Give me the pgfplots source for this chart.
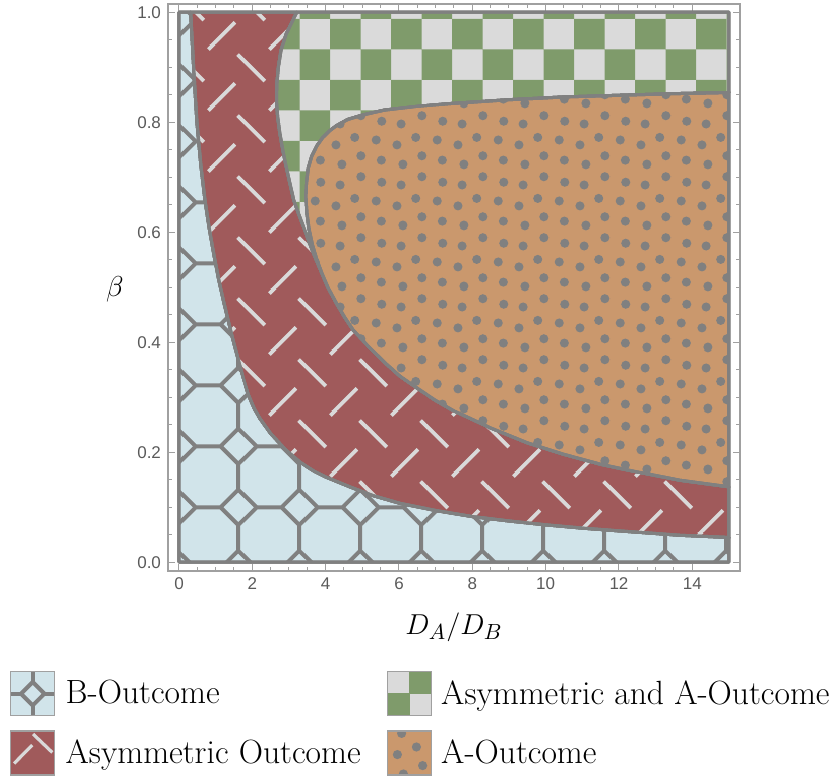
\documentclass[border=0pt]{standalone}
\usepackage{fontspec}
\usepackage{pgfplots}
\pgfplotsset{compat=1.18}
\usetikzlibrary{patterns}
\newfontfamily\tickfont{Liberation Sans}

\definecolor{bcol}{RGB}{209,228,234}
\definecolor{rcol}{RGB}{160,90,91}
\definecolor{gcol}{RGB}{127,155,107}
\definecolor{lgray}{RGB}{218,218,218}
\definecolor{ocol}{RGB}{202,152,109}
\definecolor{pgray}{RGB}{128,128,128}
\definecolor{dashcol}{RGB}{217,217,217}
\definecolor{framecol}{RGB}{160,160,160}
\definecolor{tickcol}{RGB}{90,90,90}

% octagon outline: centre #1,#2, half period #3, half edge #4
\newcommand\octpath[4]{%
 \pgfpathmoveto{\pgfpoint{#1+#3}{#2-#4}}%
 \pgfpathlineto{\pgfpoint{#1+#3}{#2+#4}}%
 \pgfpathlineto{\pgfpoint{#1+#4}{#2+#3}}%
 \pgfpathlineto{\pgfpoint{#1-#4}{#2+#3}}%
 \pgfpathlineto{\pgfpoint{#1-#3}{#2+#4}}%
 \pgfpathlineto{\pgfpoint{#1-#3}{#2-#4}}%
 \pgfpathlineto{\pgfpoint{#1-#4}{#2-#3}}%
 \pgfpathlineto{\pgfpoint{#1+#4}{#2-#3}}%
 \pgfpathclose}
\newcommand\bsl[2]{%
 \pgfpathmoveto{\pgfpoint{#1-6.7pt}{#2+6.7pt}}%
 \pgfpathlineto{\pgfpoint{#1+6.7pt}{#2-6.7pt}}}
\newcommand\fsl[2]{%
 \pgfpathmoveto{\pgfpoint{#1-6.7pt}{#2-6.7pt}}%
 \pgfpathlineto{\pgfpoint{#1+6.7pt}{#2+6.7pt}}}
\newcommand\dotat[2]{\pgfpathcircle{\pgfqpoint{#1}{#2}}{2.3pt}}

\pgfdeclarepatternformonly{myocts}{\pgfqpoint{0pt}{0pt}}{\pgfqpoint{30.5pt}{30.5pt}}{\pgfqpoint{30.5pt}{30.5pt}}{%
 \pgfsetlinewidth{2pt}\pgfsetroundjoin
 \octpath{12.75pt}{27.75pt}{15.25pt}{6.317pt}\octpath{43.25pt}{27.75pt}{15.25pt}{6.317pt}%
 \octpath{12.75pt}{-2.75pt}{15.25pt}{6.317pt}\octpath{43.25pt}{-2.75pt}{15.25pt}{6.317pt}%
 \pgfusepath{stroke}}
\pgfdeclarepatternformonly{mydashes}{\pgfqpoint{0pt}{0pt}}{\pgfqpoint{30.5pt}{30.5pt}}{\pgfqpoint{30.5pt}{30.5pt}}{%
 \pgfsetlinewidth{1.9pt}\pgfsetbuttcap
 \bsl{3.9pt}{18.85pt}\bsl{34.4pt}{18.85pt}\fsl{19.6pt}{4.3pt}\fsl{19.6pt}{34.8pt}%
 \pgfusepath{stroke}}
\pgfdeclarepatternformonly{mychecker}{\pgfqpoint{12.6pt}{12.5pt}}{\pgfqpoint{43.1pt}{43pt}}{\pgfqpoint{30.5pt}{30.5pt}}{%
 \pgfpathrectanglecorners{\pgfqpoint{12.6pt}{27.75pt}}{\pgfqpoint{27.85pt}{43pt}}%
 \pgfpathrectanglecorners{\pgfqpoint{27.85pt}{12.5pt}}{\pgfqpoint{43.1pt}{27.75pt}}%
 \pgfusepath{fill}}
\pgfdeclarepatternformonly{mydots}{\pgfqpoint{0pt}{0pt}}{\pgfqpoint{30.5pt}{30.5pt}}{\pgfqpoint{30.5pt}{30.5pt}}{%
 \dotat{7.8pt}{3.0pt}\dotat{18.7pt}{1.0pt}\dotat{18.7pt}{31.5pt}\dotat{28.3pt}{5.2pt}\dotat{-2.2pt}{5.2pt}%
 \dotat{5.2pt}{13.2pt}\dotat{15.7pt}{10.7pt}\dotat{25.2pt}{14.5pt}%
 \dotat{8.0pt}{22.7pt}\dotat{17.8pt}{21.3pt}\dotat{28.3pt}{25.5pt}\dotat{-2.2pt}{25.5pt}%
 \pgfusepath{fill}}

\pgfplotsset{legsw/.style={area legend,
  legend image code/.code={\draw[##1] (0pt,-11pt) rectangle (22pt,11pt);}}}

\begin{document}
\begin{tikzpicture}
\path[use as bounding box] (0,0) rectangle (416pt,388pt);
\begin{axis}[
  at={(84pt,102.5pt)}, anchor=south west, scale only axis,
  width=286pt, height=283.5pt,
  xmin=-0.3, xmax=15.3, ymin=-0.016, ymax=1.015,
  axis line style={framecol, line width=0.7pt},
  xtick={0,2,4,6,8,10,12,14}, ytick={0,0.2,0.4,0.6,0.8,1.0},
  minor x tick num=3, minor y tick num=3,
  tick align=inside, major tick length=3.5pt, minor tick length=2pt,
  every tick/.style={framecol, line width=0.5pt},
  /pgf/number format/assume math mode=true,
  ticklabel style={font=\tickfont\fontsize{8.5}{10}\selectfont, text=tickcol},
  yticklabel style={/pgf/number format/fixed, /pgf/number format/fixed zerofill, /pgf/number format/precision=1},
  xlabel={$D_A/D_B$}, ylabel={$\beta$},
  label style={font=\fontsize{15}{18}\selectfont},
  xlabel style={at={(axis description cs:0.5,-0.10)}, anchor=center},
  ylabel style={at={(axis description cs:-0.093,0.496)}, anchor=center, rotate=-90},
  legend columns=2, legend cell align=left,
  legend style={at={(axis description cs:-0.2792,-0.1734)}, anchor=north west,
    draw=none, fill=none, inner sep=0pt, font=\fontsize{16.8}{19}\selectfont,
    row sep=6.3pt, nodes={inner sep=0pt},
    /tikz/every odd column/.append style={column sep=4.5pt},
    /tikz/every even column/.append style={column sep=13pt}},
]
\addlegendimage{legend image code/.code={%
  \fill[bcol] (0pt,-11pt) rectangle (22pt,11pt);
  \draw[pgray, line width=2pt, line join=round] (11pt,5.86pt) -- (16.86pt,0pt) -- (11pt,-5.86pt) -- (5.14pt,0pt) -- cycle;
  \draw[pgray, line width=2pt] (11pt,5.86pt) -- (11pt,11pt) (11pt,-5.86pt) -- (11pt,-11pt)
     (0pt,0pt) -- (5.14pt,0pt) (16.86pt,0pt) -- (22pt,0pt);
  \draw[framecol, line width=0.75pt] (0pt,-11pt) rectangle (22pt,11pt);}}
\addlegendentry{B-Outcome}
\addlegendimage{legend image code/.code={%
  \fill[lgray] (0pt,-11pt) rectangle (22pt,11pt);
  \fill[gcol] (11pt,0pt) rectangle (22pt,11pt);
  \fill[gcol] (0pt,-11pt) rectangle (11pt,0pt);
  \draw[framecol, line width=0.75pt] (0pt,-11pt) rectangle (22pt,11pt);}}
\addlegendentry{Asymmetric and A-Outcome}
\addlegendimage{legend image code/.code={%
  \fill[rcol] (0pt,-11pt) rectangle (22pt,11pt);
  \draw[dashcol, line width=1.6pt] (11.2pt,9.5pt) -- (20.8pt,0.3pt) (1.7pt,-5.2pt) -- (10.8pt,4pt);
  \draw[framecol, line width=0.75pt] (0pt,-11pt) rectangle (22pt,11pt);}}
\addlegendentry{Asymmetric Outcome}
\addlegendimage{legsw, draw=framecol, line width=0.75pt, preaction={fill=ocol}, preaction={pattern=mydots, pattern color=pgray}}
\addlegendentry{A-Outcome}

% B-Outcome
\addplot[forget plot, draw=pgray, line width=1.5pt, line join=round,
  preaction={fill=bcol}, preaction={pattern=myocts, pattern color=pgray}]
 coordinates {(0,0) (0,1) (0.32,1.0) (0.40,0.90) (0.49,0.80) (0.60,0.72) (0.71,0.658) (0.83,0.605)
 (0.95,0.56) (1.08,0.515) (1.21,0.476) (1.34,0.44) (1.47,0.405) (1.6,0.372) (1.74,0.338)
 (1.89,0.305) (2.05,0.28) (2.2,0.262) (2.5,0.234) (2.9,0.205) (3.3,0.182) (3.7,0.165)
 (4.0,0.155) (4.66,0.137) (5.3,0.121) (6.03,0.107) (7,0.094) (8,0.083) (9,0.075) (10,0.068)
 (11,0.062) (12,0.057) (13.66,0.049) (15,0.045) (15,0)} -- cycle;

% Asymmetric Outcome
\addplot[forget plot, draw=pgray, line width=1.5pt, line join=round,
  preaction={fill=rcol}, preaction={pattern=mydashes, pattern color=dashcol}]
 coordinates {(0.32,1.0) (3.21,1.0) (2.92,0.96) (2.78,0.93) (2.71,0.90) (2.67,0.87) (2.66,0.84)
 (2.69,0.81) (2.75,0.78) (2.83,0.75) (2.92,0.72) (3.02,0.69) (3.13,0.658) (3.28,0.63) (3.45,0.60)
 (3.62,0.57) (3.76,0.547) (3.9,0.525) (4.08,0.497) (4.30,0.470) (4.52,0.445) (4.75,0.422)
 (5.2,0.39) (5.66,0.36) (6.03,0.338) (6.57,0.313) (7.0,0.294) (7.5,0.275) (8.5,0.244)
 (9.5,0.217) (10.5,0.196) (11.5,0.178) (12.5,0.164) (13.66,0.149) (15,0.137)
 (15,0.045) (13.66,0.049) (12,0.057) (11,0.062) (10,0.068) (9,0.075) (8,0.083) (7,0.094)
 (6.03,0.107) (5.3,0.121) (4.66,0.137) (4.0,0.155) (3.7,0.165) (3.3,0.182) (2.9,0.205)
 (2.5,0.234) (2.2,0.262) (2.05,0.28) (1.89,0.305) (1.74,0.338) (1.6,0.372) (1.47,0.405)
 (1.34,0.44) (1.21,0.476) (1.08,0.515) (0.95,0.56) (0.83,0.605) (0.71,0.658) (0.60,0.72)
 (0.49,0.80) (0.40,0.90)} -- cycle;

% Asymmetric and A-Outcome
\addplot[forget plot, draw=pgray, line width=1.5pt, line join=round,
  preaction={fill=lgray}, preaction={pattern=mychecker, pattern color=gcol}]
 coordinates {(3.21,1.0) (15,1.0) (15,0.854) (13.5,0.852) (12,0.849) (10.5,0.846) (9,0.841)
 (7.4,0.834) (6.5,0.829) (5.6,0.822) (5.0,0.813) (4.6,0.805) (4.3,0.794) (4.12,0.785)
 (3.92,0.772) (3.76,0.757) (3.62,0.738) (3.53,0.717) (3.48,0.69) (3.46,0.665) (3.49,0.635)
 (3.55,0.605) (3.64,0.577) (3.76,0.550) (3.9,0.525) (3.76,0.547) (3.62,0.57) (3.45,0.60)
 (3.28,0.63) (3.13,0.658) (3.02,0.69) (2.92,0.72) (2.83,0.75) (2.75,0.78) (2.69,0.81)
 (2.66,0.84) (2.67,0.87) (2.71,0.90) (2.78,0.93) (2.92,0.96)} -- cycle;

% A-Outcome
\addplot[forget plot, draw=pgray, line width=1.5pt, line join=round,
  preaction={fill=ocol}, preaction={pattern=mydots, pattern color=pgray}]
 coordinates {(15,0.854) (13.5,0.852) (12,0.849) (10.5,0.846) (9,0.841)
 (7.4,0.834) (6.5,0.829) (5.6,0.822) (5.0,0.813) (4.6,0.805) (4.3,0.794) (4.12,0.785)
 (3.92,0.772) (3.76,0.757) (3.62,0.738) (3.53,0.717) (3.48,0.69) (3.46,0.665) (3.49,0.635)
 (3.55,0.605) (3.64,0.577) (3.76,0.550) (3.9,0.525) (4.08,0.497) (4.30,0.470) (4.52,0.445)
 (4.75,0.422) (5.2,0.39) (5.66,0.36) (6.03,0.338) (6.57,0.313) (7.0,0.294) (7.5,0.275)
 (8.5,0.244) (9.5,0.217) (10.5,0.196) (11.5,0.178) (12.5,0.164) (13.66,0.149) (15,0.137)} -- cycle;
\end{axis}
\end{tikzpicture}
\end{document}
